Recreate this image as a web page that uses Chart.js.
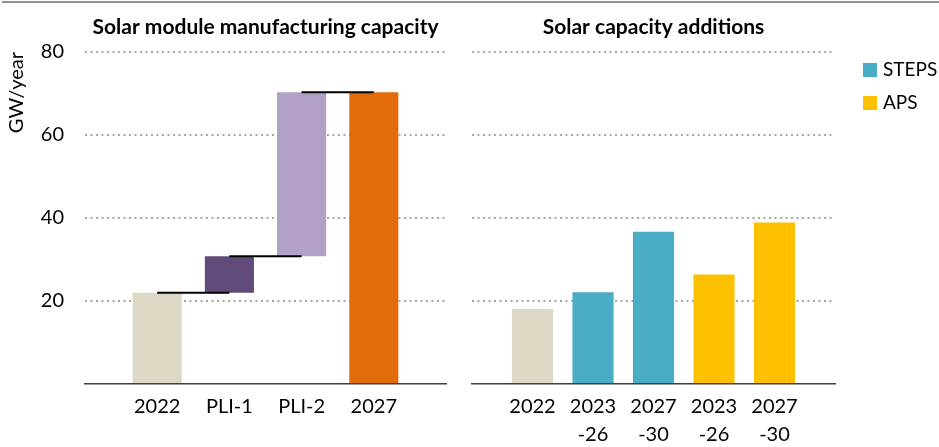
<!DOCTYPE html>
<html lang="en">
  <head>
    <meta charset="UTF-8" />
    <title>Solar manufacturing and additions</title>
    <script src="https://cdn.jsdelivr.net/npm/chart.js"></script>
    <style>
      body { margin: 0; background: #fff; }
      #topline { position: absolute; left: 2px; top: 1px; width: 937px; height: 2px; background: #919191; }
      #left { position: absolute; left: 0; top: 0; width: 460px; height: 447px; }
      #right { position: absolute; left: 460px; top: 0; width: 479px; height: 447px; }
    </style>
  </head>
  <body>
    <div id="topline"></div>
    <div id="left"><canvas id="capChart"></canvas></div>
    <div id="right"><canvas id="addChart"></canvas></div>

    <script>
      // Solar module manufacturing capacity (GW/year), waterfall
      const capLabels = ["2022", "PLI-1", "PLI-2", "2027"];
      const capStart = [0, 22, 30.8, 0];
      const capEnd = [22, 30.8, 70.3, 70.3];
      const capColors = ["#ddd8c4", "#624b7b", "#b2a1c7", "#e36c0a"];

      // Solar capacity additions (GW/year)
      const addLabels = ["2022", ["2023", "-26"], ["2027", "-30"], ["2023", "-26"], ["2027", "-30"]];
      const addHistory = [18.1, null, null, null, null];
      const addSteps = [null, 22.1, 36.7, null, null];
      const addAps = [null, null, null, 26.4, 38.9];

      const yTicks = [20, 40, 60, 80];

      const FONT = "Lato, 'Open Sans', sans-serif";
      const gridColor = "#a6a6a6";

      // one empty slot at each end so bars sit where the original puts them
      const pad = arr => [null, ...arr, null];
      const padLabels = arr => ["", ...arr, ""];

      function yScale(showTicks) {
        return {
          min: 0,
          max: 80,
          grid: {
            color: ctx => (ctx.tick && ctx.tick.value === 0 ? "rgba(0,0,0,0)" : gridColor),
            lineWidth: 2,
            drawTicks: false,
          },
          border: { display: false, dash: [2, 3.5] },
          ticks: {
            display: showTicks,
            stepSize: 20,
            padding: 21,
            color: "#000",
            font: { family: FONT, size: 20 },
            callback: v => (yTicks.includes(v) ? v : ""),
          },
          afterFit: s => { s.width = showTicks ? 85 : 0; },
        };
      }

      function xScale() {
        return {
          offset: false,
          stacked: true,
          grid: { display: false, drawTicks: false },
          border: { display: true, color: "#404040", width: 1.5 },
          ticks: {
            padding: 9,
            autoSkip: false,
            maxRotation: 0,
            color: "#000",
            font: { family: FONT, size: 20, lineHeight: 1.4 },
          },
          afterFit: s => { s.height = 63; },
        };
      }

      function titleOpts(text) {
        return {
          display: true,
          text: text,
          fullSize: false,
          color: "#000",
          font: { family: FONT, size: 21, weight: "bold", lineHeight: 1.2 },
          padding: { top: 14.4, bottom: 12.4 },
        };
      }

      // draw the legend by hand so it can sit where the original puts it
      const sideLegend = {
        id: "sideLegend",
        afterDraw(chart) {
          const ctx = chart.ctx;
          const x = chart.chartArea.right + 28;
          let y = 63;
          ctx.save();
          ctx.font = "19px " + FONT;
          ctx.textBaseline = "middle";
          chart.data.datasets.forEach(ds => {
            if (!ds.inLegend) return;
            ctx.fillStyle = ds.backgroundColor;
            ctx.fillRect(x, y, 14, 14);
            ctx.fillStyle = "#000";
            ctx.fillText(ds.label, x + 20, y + 7);
            y += 33;
          });
          ctx.restore();
        },
      };

      const connectors = capEnd.slice(0, -1).map((v, i) => {
        const data = capLabels.map(() => null);
        data[i] = v;
        data[i + 1] = v;
        return {
          type: "line",
          label: "link" + i,
          data: pad(data),
          borderColor: "#000",
          borderWidth: 2,
          pointRadius: 0,
          fill: false,
          spanGaps: false,
          order: 0,
        };
      });

      new Chart(document.getElementById("capChart"), {
        type: "bar",
        data: {
          labels: padLabels(capLabels),
          datasets: [
            {
              label: "Capacity",
              data: pad(capLabels.map((_, i) => [capStart[i], capEnd[i]])),
              backgroundColor: pad(capColors),
              categoryPercentage: 1,
              barPercentage: 0.68,
              order: 1,
            },
            ...connectors,
          ],
        },
        options: {
          responsive: true,
          maintainAspectRatio: false,
          animation: false,
          layout: { padding: { left: 0, right: 14, top: 0, bottom: 0 } },
          plugins: {
            legend: { display: false },
            tooltip: { enabled: false },
            title: titleOpts("Solar module manufacturing capacity"),
          },
          scales: {
            x: xScale(),
            y: Object.assign(yScale(true), {
              title: {
                display: true,
                text: "GW/year",
                align: "end",
                color: "#000",
                font: { family: FONT, size: 20, lineHeight: 1.2 },
                padding: { top: 5, bottom: 0 },
              },
            }),
          },
        },
      });

      const addDatasets = [
        { label: "2022", data: addHistory, backgroundColor: "#ddd8c4", inLegend: false },
        { label: "STEPS", data: addSteps, backgroundColor: "#4bacc6", inLegend: true },
        { label: "APS", data: addAps, backgroundColor: "#ffc000", inLegend: true },
      ].map(ds => Object.assign(ds, {
        data: pad(ds.data),
        categoryPercentage: 1,
        barPercentage: 0.68,
      }));

      new Chart(document.getElementById("addChart"), {
        type: "bar",
        data: { labels: padLabels(addLabels), datasets: addDatasets },
        options: {
          responsive: true,
          maintainAspectRatio: false,
          animation: false,
          layout: { padding: { left: 12, right: 104, top: 0, bottom: 0 } },
          plugins: {
            legend: { display: false },
            tooltip: { enabled: false },
            title: titleOpts("Solar capacity additions"),
          },
          scales: {
            x: xScale(),
            y: Object.assign(yScale(false), { stacked: false }),
          },
        },
        plugins: [sideLegend],
      });
    </script>
  </body>
</html>
